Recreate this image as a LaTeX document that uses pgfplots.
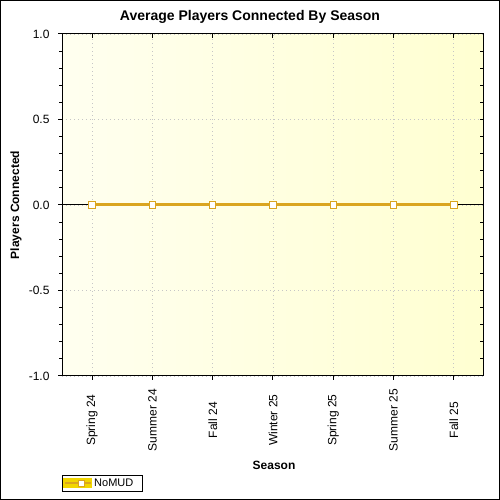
\documentclass[border=0pt]{standalone}
\usepackage{pgfplots}
\pgfplotsset{compat=1.18}
\usepackage{fontspec}
\setmainfont{Liberation Sans}
\definecolor{goldline}{HTML}{DAA520}
\definecolor{legband}{HTML}{F2D600}
\begin{document}
\begin{tikzpicture}
\useasboundingbox (0pt,0pt) rectangle (500pt,500pt);
\fill[white] (0pt,0pt) rectangle (500pt,500pt);
\draw[black, line width=1pt] (0.5pt,0.5pt) rectangle (499.5pt,499.5pt);
\begin{axis}[
    at={(62pt,124pt)}, anchor=south west,
    scale only axis,
    width=422pt, height=342pt,
    xmin=-0.5, xmax=6.5,
    ymin=-1, ymax=1,
    xtick={0,...,6},
    xticklabels={Spring 24,Summer 24,Fall 24,Winter 25,Spring 25,Summer 25,Fall 25},
    ytick={-1,-0.5,0,0.5,1},
    minor y tick num=4,
    tick pos=left,
    tick align=outside,
    major tick length=4pt,
    minor tick length=3pt,
    tick style={black, line width=1pt},
    axis line style={black, line width=1pt},
    grid=major,
    major grid style={gray!45, dash pattern=on 1pt off 3pt, line width=0.8pt},
    extra y ticks={0},
    extra y tick labels={},
    extra y tick style={grid=major, major grid style={black, solid, line width=1pt}, tick style={draw=none}},
    axis background/.style={left color=yellow!6, right color=yellow!18},
    tick label style={font=\fontsize{12}{14}\selectfont},
    x tick label style={rotate=90, anchor=center},
    xticklabel shift=40pt,
    yticklabel shift=5pt,
    yticklabel style={/pgf/number format/fixed, /pgf/number format/precision=1, /pgf/number format/fixed zerofill},
    /pgf/number format/assume math mode=true,
    legend style={at={(axis description cs:0,-0.336)}, anchor=south west, draw=black,
        font=\fontsize{11}{13}\selectfont, inner sep=1pt, row sep=0pt,
        legend cell align=left},
    legend image code/.code={
        \fill[legband] (0pt,-3.5pt) rectangle (26pt,3.5pt);
        \draw[goldline, line width=2pt] (0pt,0pt) -- (26pt,0pt);
        \node[draw=goldline, fill=white, rectangle, inner sep=0pt, minimum size=6pt, line width=0.8pt] at (13pt,0pt) {};
    },
]
\addplot[goldline, line width=3pt, mark=square*,
    mark options={fill=white, draw=goldline, line width=1pt}, mark size=3.2pt]
    coordinates {(0,0) (1,0) (2,0) (3,0) (4,0) (5,0) (6,0)};
\addlegendentry{NoMUD\hspace*{6pt}}
\end{axis}
\begin{axis}[
    at={(62pt,124pt)}, anchor=south west,
    scale only axis,
    width=422pt, height=342pt,
    xmin=-0.5, xmax=6.5,
    ymin=-1, ymax=1,
    axis x line*=top, axis y line*=right,
    xtick={0,...,6}, ytick={-1,-0.5,0,0.5,1},
    minor y tick num=4,
    xticklabels={}, yticklabels={},
    tick align=inside,
    major tick length=4pt, minor tick length=4pt,
    tick style={black, line width=1pt},
    axis line style={black, line width=1pt, -},
]
\end{axis}
\node[font=\bfseries\fontsize{14}{16}\selectfont] at (250pt,483pt) {Average Players Connected By Season};
\node[font=\bfseries\fontsize{12}{14}\selectfont] at (274pt,35pt) {Season};
\node[font=\bfseries\fontsize{12}{14}\selectfont, rotate=90] at (16pt,295pt) {Players Connected};
\end{tikzpicture}
\end{document}
